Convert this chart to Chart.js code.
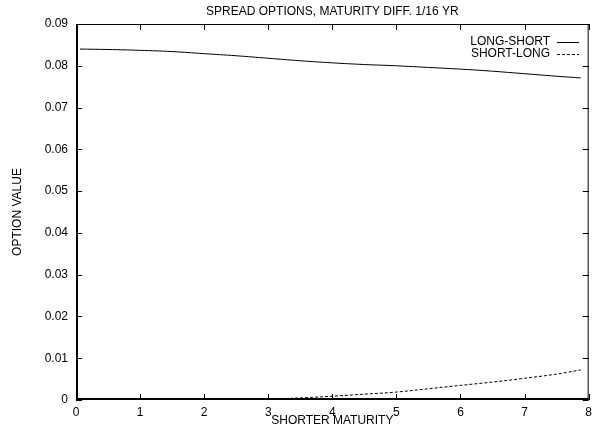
<!DOCTYPE html>
<html>
<head>
<meta charset="utf-8">
<script src="https://cdn.jsdelivr.net/npm/chart.js@4/dist/chart.umd.min.js"></script>
<style>
  html, body { margin: 0; padding: 0; background: #fff; }
  #wrap { width: 597px; height: 429px; }
</style>
</head>
<body>
<div id="wrap"><canvas id="c" width="597" height="429"></canvas></div>
<script>
// shorter maturity (years)
const maturity = [0.0625, 0.5, 1, 1.5, 2, 2.5, 3, 3.5, 4, 4.5, 5, 5.5, 6, 6.5, 7, 7.5, 7.875];
const longShort = [0.0840, 0.0839, 0.0837, 0.0834, 0.0829, 0.0824, 0.0818, 0.0812, 0.0807, 0.0803, 0.0800, 0.0796, 0.0792, 0.0787, 0.0781, 0.0775, 0.0771];
const shortLong = [0, 0, 0, 0.00001, 0.00003, 0.0001, 0.0002, 0.0005, 0.0009, 0.0014, 0.0019, 0.0027, 0.0035, 0.0043, 0.0052, 0.0062, 0.0072];
const xTicks = [0, 1, 2, 3, 4, 5, 6, 7, 8];
const yTicks = [0, 0.01, 0.02, 0.03, 0.04, 0.05, 0.06, 0.07, 0.08, 0.09];

const FONT = '"Liberation Sans", Arial, sans-serif';

const toXY = (ys) => ys.map((y, i) => ({ x: maturity[i], y }));

// frame with inward ticks on all four sides, titles and key
const frame = {
  id: 'frame',
  afterDraw(chart) {
    const { ctx, chartArea: a, scales: { x, y } } = chart;
    ctx.save();
    ctx.strokeStyle = '#000';
    ctx.lineWidth = 1;
    ctx.beginPath();
    ctx.moveTo(a.left, a.top + 0.5); ctx.lineTo(a.right, a.top + 0.5);
    ctx.moveTo(a.right - 0.5, a.top); ctx.lineTo(a.right - 0.5, a.bottom);
    xTicks.forEach(v => {
      const px = Math.round(x.getPixelForValue(v)) + 0.5;
      ctx.moveTo(px, a.bottom); ctx.lineTo(px, a.bottom - 6);
      ctx.moveTo(px, a.top); ctx.lineTo(px, a.top + 6);
    });
    yTicks.forEach(v => {
      const py = Math.round(y.getPixelForValue(v)) + 0.5;
      ctx.moveTo(a.left, py); ctx.lineTo(a.left + 6, py);
      ctx.moveTo(a.right, py); ctx.lineTo(a.right - 6, py);
    });
    ctx.stroke();
    ctx.lineWidth = 2;
    ctx.beginPath();
    ctx.moveTo(a.left + 1, a.top); ctx.lineTo(a.left + 1, a.bottom);
    ctx.moveTo(a.left, a.bottom - 1); ctx.lineTo(a.right, a.bottom - 1);
    ctx.stroke();

    ctx.fillStyle = '#000';
    ctx.font = '12px ' + FONT;
    ctx.textAlign = 'center';
    ctx.textBaseline = 'middle';
    const cx = (a.left + a.right) / 2;
    ctx.fillText('SPREAD OPTIONS, MATURITY DIFF. 1/16 YR', cx, 12);
    ctx.fillText('SHORTER MATURITY', cx, 421);
    ctx.save();
    ctx.translate(18, (a.top + a.bottom) / 2);
    ctx.rotate(-Math.PI / 2);
    ctx.fillText('OPTION VALUE', 0, 0);
    ctx.restore();

    // key
    ctx.textAlign = 'right';
    chart.data.datasets.forEach((ds, i) => {
      const ly = 42 + i * 12;
      ctx.fillText(ds.label, 550, ly);
      ctx.beginPath();
      ctx.lineWidth = 1;
      ctx.setLineDash(ds.borderDash || []);
      ctx.moveTo(557, ly + 0.5); ctx.lineTo(579, ly + 0.5);
      ctx.stroke();
    });
    ctx.restore();
  }
};

new Chart(document.getElementById('c'), {
  type: 'line',
  data: {
    datasets: [
      { label: 'LONG-SHORT', data: toXY(longShort), borderColor: '#000', borderWidth: 1, pointRadius: 0, tension: 0.4, fill: false },
      { label: 'SHORT-LONG', data: toXY(shortLong), borderColor: '#000', borderWidth: 1, borderDash: [3, 2], pointRadius: 0, cubicInterpolationMode: 'monotone', fill: false }
    ]
  },
  options: {
    responsive: false,
    animation: false,
    layout: { padding: { top: 24, right: 7, left: 0, bottom: 0 } },
    plugins: { legend: { display: false }, tooltip: { enabled: false } },
    scales: {
      x: {
        type: 'linear', min: 0, max: 8,
        afterFit: s => { s.height = 29; },
        afterBuildTicks: s => { s.ticks = xTicks.map(v => ({ value: v })); },
        grid: { display: false, drawTicks: false },
        border: { display: false },
        ticks: { color: '#000', font: { family: FONT, size: 12 }, padding: 5, maxRotation: 0, callback: v => String(v) }
      },
      y: {
        type: 'linear', min: 0, max: 0.09,
        afterFit: s => { s.width = 76; },
        afterBuildTicks: s => { s.ticks = yTicks.map(v => ({ value: v })); },
        grid: { display: false, drawTicks: false },
        border: { display: false },
        ticks: { color: '#000', font: { family: FONT, size: 12 }, padding: 8, callback: v => String(+v.toFixed(2)) }
      }
    }
  },
  plugins: [frame]
});
</script>
</body>
</html>
